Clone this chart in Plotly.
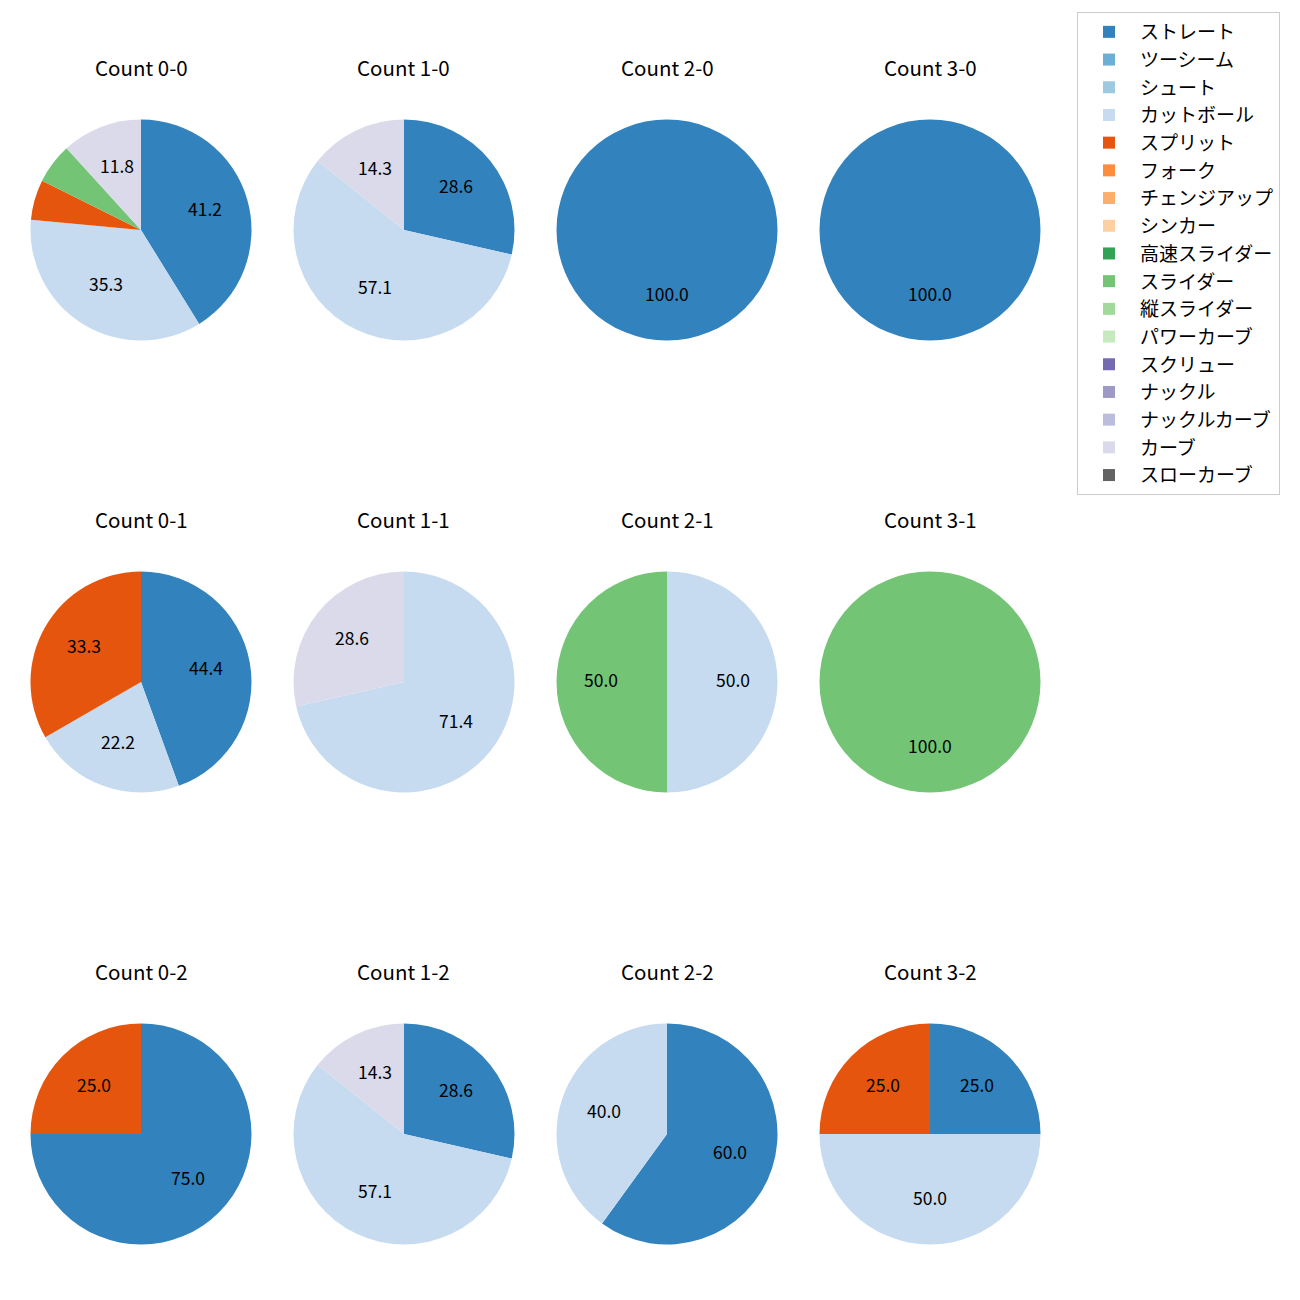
import numpy as np
import plotly.graph_objects as go

pitch_types = ["ストレート", "ツーシーム", "シュート", "カットボール", "スプリット", "フォーク",
               "チェンジアップ", "シンカー", "高速スライダー", "スライダー", "縦スライダー",
               "パワーカーブ", "スクリュー", "ナックル", "ナックルカーブ", "カーブ", "スローカーブ"]
colors = ["#3182bd", "#6baed6", "#9ecae1", "#c6dbef", "#e6550d", "#fd8d3c", "#fdae6b", "#fdd0a2",
          "#31a354", "#74c476", "#a1d99b", "#c7e9c0", "#756bb1", "#9e9ac8", "#bcbddc", "#dadaeb",
          "#636363"]

counts = ["0-0", "1-0", "2-0", "3-0", "0-1", "1-1", "2-1", "3-1", "0-2", "1-2", "2-2", "3-2"]

# pitches per count (by pitch type name)
count_00 = {"ストレート": 7, "カットボール": 6, "スプリット": 1, "スライダー": 1, "カーブ": 2}
count_10 = {"ストレート": 2, "カットボール": 4, "カーブ": 1}
count_20 = {"ストレート": 1}
count_30 = {"ストレート": 1}
count_01 = {"ストレート": 4, "カットボール": 2, "スプリット": 3}
count_11 = {"カットボール": 5, "カーブ": 2}
count_21 = {"カットボール": 1, "スライダー": 1}
count_31 = {"スライダー": 1}
count_02 = {"ストレート": 3, "スプリット": 1}
count_12 = {"ストレート": 2, "カットボール": 4, "カーブ": 1}
count_22 = {"ストレート": 3, "カットボール": 2}
count_32 = {"ストレート": 1, "カットボール": 2, "スプリット": 1}

data = [count_00, count_10, count_20, count_30, count_01, count_11, count_21, count_31,
        count_02, count_12, count_22, count_32]

W = H = 1300
col_cx = [141, 404, 667, 930]
row_cy = [230, 682, 1134]
R = 110.5
FONT = "Noto Sans CJK JP, Noto Sans, sans-serif"

fig = go.Figure()
annotations = []
for i, (name, d) in enumerate(zip(counts, data)):
    r_i, c_i = divmod(i, 4)
    cx, cy = col_cx[c_i], row_cy[r_i]
    vals = [d.get(p, 0) for p in pitch_types]
    fig.add_trace(go.Pie(
        labels=pitch_types, values=vals, sort=False, direction="clockwise", rotation=0,
        marker=dict(colors=colors, line=dict(width=0)),
        textinfo="none", hoverinfo="label+percent", showlegend=(i == 0),
        domain=dict(x=[(cx - R) / W, (cx + R) / W], y=[1 - (cy + R) / H, 1 - (cy - R) / H]),
    ))
    annotations.append(dict(text=f"Count {name}", x=cx / W, y=1 - (cy - 163) / H,
                            xref="paper", yref="paper", showarrow=False,
                            xanchor="center", yanchor="middle",
                            font=dict(size=20.5, color="black", family=FONT)))
    v = np.array(vals, dtype=float)
    frac = v / v.sum()
    cum = np.cumsum(frac)
    for f, cf in zip(frac, cum):
        if f * 100 < 10:
            continue
        theta = np.deg2rad(90 - 360 * (cf - f / 2))
        px = cx + 0.6 * R * np.cos(theta)
        py = cy - 0.6 * R * np.sin(theta) - 3
        annotations.append(dict(text=f"{f*100:.1f}", x=px / W, y=1 - py / H,
                                xref="paper", yref="paper", showarrow=False,
                                xanchor="center", yanchor="middle",
                                font=dict(size=17.5, color="black", family=FONT)))

fig.update_layout(
    width=W, height=H, margin=dict(l=0, r=0, t=0, b=0),
    paper_bgcolor="white", plot_bgcolor="white",
    annotations=annotations,
    legend=dict(x=1077 / W, y=1 - 12 / H, xanchor="left", yanchor="top",
                bordercolor="#cccccc", borderwidth=1, bgcolor="white",
                itemwidth=52,
                font=dict(size=19, color="black", family=FONT), traceorder="normal"),
)

fig.write_html("out.html", config={"displayModeBar": False},
               post_script="document.body.style.margin='0';")
